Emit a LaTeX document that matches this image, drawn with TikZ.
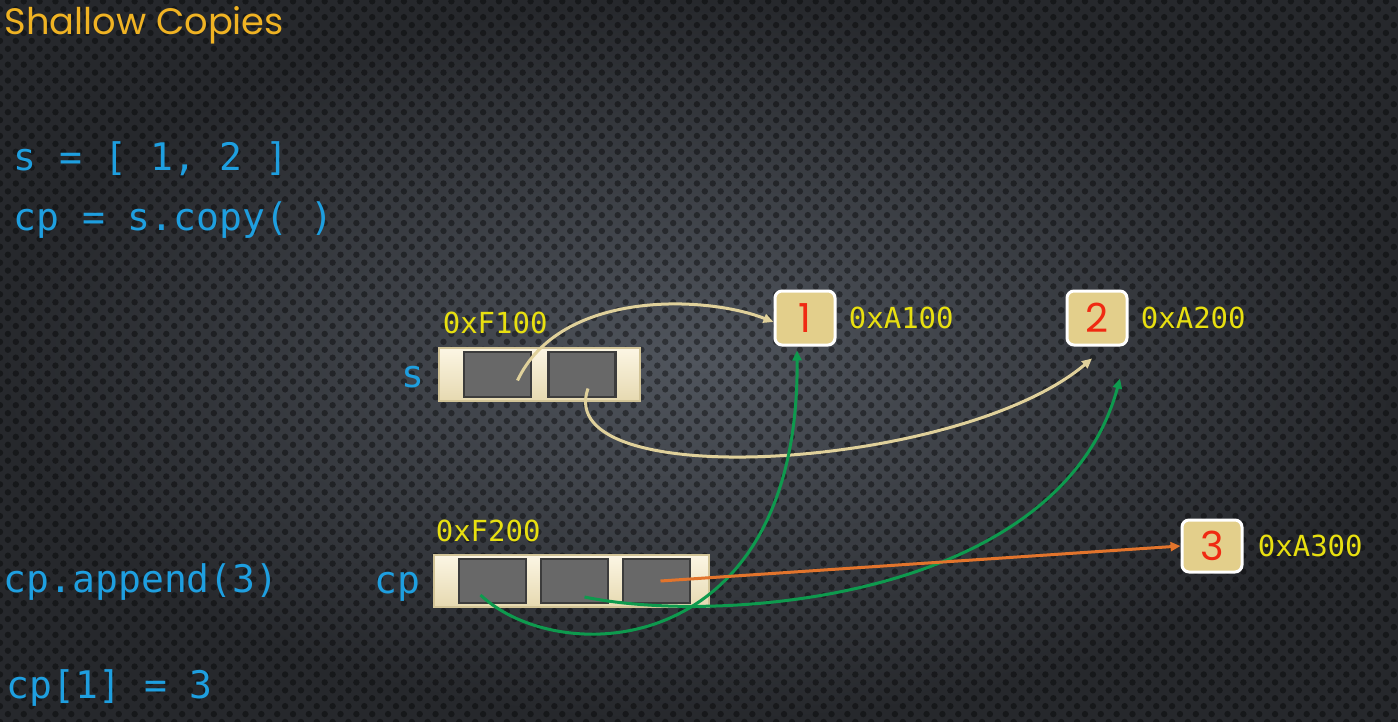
\documentclass[tikz,border=0pt]{standalone}
\usepackage{fontspec}
\setmainfont{DejaVu Sans}
\setmonofont{DejaVu Sans Mono}
\newfontfamily\titlefont{Poppins}
\usetikzlibrary{arrows.meta,positioning,patterns.meta}
\definecolor{bgmid}{HTML}{50555D}
\definecolor{bgedge}{HTML}{26282C}
\definecolor{codeblue}{HTML}{1E9FE0}
\definecolor{headline}{HTML}{F0B323}
\definecolor{addrtext}{HTML}{E8E010}
\definecolor{valfill}{HTML}{E3CF8B}
\definecolor{valtext}{HTML}{F02A12}
\definecolor{listtop}{HTML}{FCF6E4}
\definecolor{listbot}{HTML}{E6D9B0}
\definecolor{listline}{HTML}{D2C497}
\definecolor{cellfill}{HTML}{686868}
\definecolor{cellline}{HTML}{3C3C3C}
\definecolor{tanline}{HTML}{E0D19B}
\definecolor{greenline}{HTML}{0E9A4E}
\definecolor{orangeline}{HTML}{E2742C}
\newcommand{\codesize}{\fontsize{19}{22}\selectfont}
\newcommand{\addrsize}{\fontsize{14.5}{16}\selectfont}
\newcommand{\valsize}{\fontsize{20}{22}\selectfont}
\tikzset{
 every node/.append style={inner sep=0pt},
 headtext/.style={font=\titlefont\fontsize{18.4}{20}\selectfont,text=headline,anchor=base west},
 codeline/.style={font=\ttfamily\codesize,text=codeblue,anchor=base west},
 varname/.style={font=\ttfamily\codesize,text=codeblue,anchor=base east},
 addr/.style={font=\ttfamily\addrsize,text=addrtext},
 listbox/.style={draw=listline,line width=.6pt,top color=listtop,bottom color=listbot,minimum height=26.5pt},
 cellbox/.style={draw=cellline,fill=cellfill,line width=1.1pt,minimum width=33.5pt,minimum height=22.5pt},
 valbox/.style={draw=white,fill=valfill,line width=1.5pt,rounded corners=3.5pt,minimum width=30pt,minimum height=27pt,font=\titlefont\valsize,text=valtext},
 link/.style={line width=1.5pt,-{Triangle[length=5pt,width=4.5pt]}},
 sref/.style={link,draw=tanline},
 cpref/.style={link,draw=greenline},
 appref/.style={link,draw=orangeline},
}

\begin{document}
\begin{tikzpicture}[x=0.5pt,y=-0.5pt]

\useasboundingbox (0,0) rectangle (1398,722);
% background
\fill[inner color=bgmid,outer color=bgedge] (0,0) rectangle (1398,722);
\fill[pattern={Dots[distance=5.6pt,radius=1.6pt,angle=45]},pattern color=black,opacity=.4] (0,0) rectangle (1398,722);

% code
\node[headtext] (title) at (4,35) {Shallow Copies};
\node[codeline] (line1) at (13,170) {s = [ 1, 2 ]};
\node[codeline] (line2) at (13,230) {cp = s.copy( )};
\node[codeline] (line3) at (3.5,592) {cp.append(3)};
\node[codeline] (line4) at (6.5,698) {cp[1] = 3};

% list s
\node[listbox,minimum width=100.5pt] (sbox) at (539.5,374.5) {};
\node[cellbox] (sc1) at (497.5,374.5) {};
\node[cellbox] (sc2) at (582,374.5) {};
\node[varname] (sname) at ([xshift=-7pt,yshift=-6.25pt]sbox.west) {s};
\node[addr,anchor=base west] (saddr) at ([xshift=2pt,yshift=7pt]sbox.north west) {0xF100};

% list cp
\node[listbox,minimum width=137.5pt,minimum height=26pt] (cpbox) at (571.5,581) {};
\node[cellbox,minimum height=22pt] (cc1) at (492.5,581) {};
\node[cellbox,minimum height=22pt] (cc2) at (574.5,581) {};
\node[cellbox,minimum height=22pt] (cc3) at (656.5,581) {};
\node[varname] (cpname) at ([xshift=-6.5pt,yshift=-6pt]cpbox.west) {cp};
\node[addr,anchor=base west] (cpaddr) at ([xshift=1pt,yshift=6.5pt]cpbox.north west) {0xF200};

% values
\node[valbox] (v1) at (805,318) {1};
\node[valbox] (v2) at (1097,318) {2};
\node[valbox,minimum height=26pt] (v3) at (1212,546) {3};
\node[addr,right=6pt of v1] (a1) {0xA100};
\node[addr,right=6pt of v2] (a2) {0xA200};
\node[addr,right=7pt of v3] (a3) {0xA300};

% references
\draw[sref] ([xshift=10pt,yshift=-3pt]sc1.center) .. controls (560,290) and (705,295) .. ([yshift=-2pt]v1.west);
\draw[sref] ([xshift=3pt,yshift=-7pt]sc2.center) .. controls (550,495) and (960,470) .. ([xshift=-2.5pt,yshift=-6pt]v2.south);
\draw[cpref] ([xshift=-6pt,yshift=-7pt]cc1.center) .. controls (560,670) and (800,660) .. ([xshift=-4pt,yshift=-2pt]v1.south);
\draw[cpref] ([xshift=5pt,yshift=-8pt]cc2.center) .. controls (720,625) and (1060,600) .. ([xshift=11.5pt,yshift=-16pt]v2.south);
\draw[appref] ([xshift=2pt]cc3.center) -- (v3.west);

\end{tikzpicture}
\end{document}
